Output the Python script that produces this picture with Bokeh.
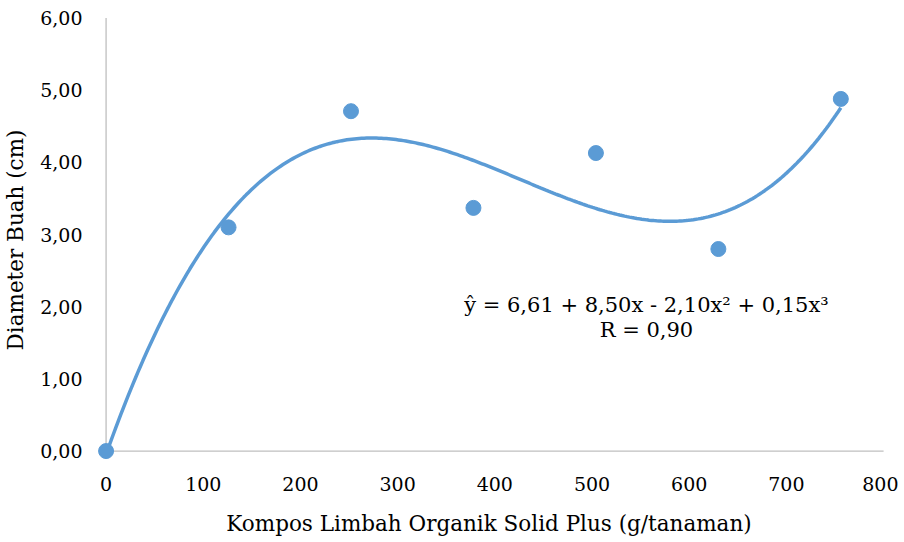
import numpy as np
from bokeh.plotting import figure
from bokeh.models import Range1d, FixedTicker, CustomJSTickFormatter, Label
from bokeh.embed import file_html
from bokeh.resources import INLINE

# Data
dose = [0, 126, 252, 378, 504, 630, 756]
diameter = [0.00, 3.10, 4.71, 3.37, 4.13, 2.80, 4.88]
x_ticks = [0, 100, 200, 300, 400, 500, 600, 700, 800]
y_ticks = [0, 1, 2, 3, 4, 5, 6]
equation = "ŷ = 6,61 + 8,50x - 2,10x² + 0,15x³"
r_text = "R = 0,90"

BLUE = "#5B9BD5"
FONT = "DejaVu Serif"

# cubic trendline fitted to the points
coef = np.polyfit(dose, diameter, 3)
xs = np.linspace(min(dose), max(dose), 300)
ys = np.polyval(coef, xs)

p = figure(width=896, height=526, output_backend="svg", toolbar_location=None,
           x_range=Range1d(-15, 803), y_range=Range1d(-0.2, 6.05),
           frame_width=795, frame_height=451,
           min_border_left=89, min_border_right=12, min_border_top=14, min_border_bottom=61)
p.outline_line_color = None
p.xgrid.visible = False
p.ygrid.visible = False

# axis lines drawn at data zero
p.segment(x0=[0], y0=[0], x1=[0], y1=[6], line_color="#BFBFBF", line_width=1.3)
p.segment(x0=[0], y0=[0], x1=[800], y1=[0], line_color="#BFBFBF", line_width=1.3)

p.line(xs, ys, line_color=BLUE, line_width=3.5)
p.scatter(dose, diameter, size=15, fill_color=BLUE, line_color=BLUE)

for ax in (p.xaxis[0], p.yaxis[0]):
    ax.axis_line_color = None
    ax.major_tick_line_color = None
    ax.minor_tick_line_color = None
    ax.major_label_text_font = FONT
    ax.major_label_text_font_size = "19px"
    ax.major_label_text_color = "#000000"
    ax.axis_label_text_font = FONT
    ax.axis_label_text_font_size = "21.5px"
    ax.axis_label_text_font_style = "normal"
    ax.axis_label_text_color = "#000000"

p.xaxis.ticker = FixedTicker(ticks=x_ticks)
p.yaxis.ticker = FixedTicker(ticks=y_ticks)
p.yaxis.formatter = CustomJSTickFormatter(code="return tick.toFixed(2).replace('.', ',');")
p.xaxis.major_label_standoff = 5
p.yaxis.major_label_standoff = 3
p.xaxis.axis_label = "Kompos Limbah Organik Solid Plus (g/tanaman)"
p.yaxis.axis_label = "Diameter Buah (cm)"
p.xaxis.axis_label_standoff = 17
p.yaxis.axis_label_standoff = 9

p.add_layout(Label(x=556, y=2.02, text=equation, text_align="center", text_baseline="middle",
                   text_font=FONT, text_font_size="21px", text_color="#000000"))
p.add_layout(Label(x=556, y=1.68, text=r_text, text_align="center", text_baseline="middle",
                   text_font=FONT, text_font_size="21px", text_color="#000000"))

open("out.html", "w").write(file_html(p, INLINE))
